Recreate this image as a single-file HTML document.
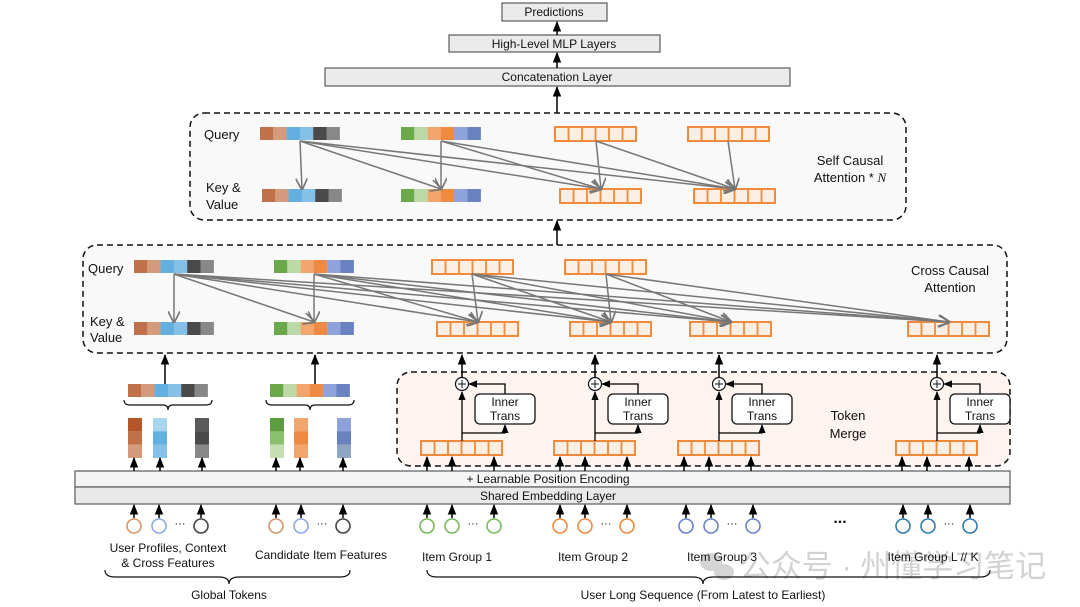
<!DOCTYPE html>
<html><head><meta charset="utf-8"><style>
html,body{margin:0;padding:0;background:#fff;width:1080px;height:607px;overflow:hidden}
svg text{font-family:"Liberation Sans",Arial,sans-serif;fill:#111}
</style></head><body>
<svg id="s" width="1080" height="607" viewBox="0 0 1080 607" xmlns="http://www.w3.org/2000/svg">
<defs>
<marker id="ab" viewBox="0 0 10 10" refX="9" refY="5" markerWidth="7" markerHeight="7" orient="auto"><path d="M0,1 L10,5 L0,9 Z" fill="#000"/></marker>
<marker id="ag" viewBox="0 0 10 10" refX="9" refY="5" markerWidth="8" markerHeight="8" orient="auto"><path d="M0,0 L10,5 L0,10" fill="none" stroke="#777" stroke-width="1.4"/></marker>
</defs>
<!-- top boxes -->
<rect x="502" y="3" width="105" height="18" fill="#ebebeb" stroke="#666" stroke-width="1.3"/>
<text x="554" y="16" font-size="12" text-anchor="middle">Predictions</text>
<rect x="449" y="35" width="211" height="17" fill="#ebebeb" stroke="#666" stroke-width="1.3"/>
<text x="554" y="48" font-size="12" text-anchor="middle">High-Level MLP Layers</text>
<rect x="325" y="68" width="465" height="18" fill="#ebebeb" stroke="#666" stroke-width="1.3"/>
<text x="557" y="81" font-size="12" text-anchor="middle">Concatenation Layer</text>
<line x1="557" y1="35" x2="557" y2="22" stroke="#000" stroke-width="1.5" marker-end="url(#ab)"/>
<line x1="557" y1="68" x2="557" y2="53" stroke="#000" stroke-width="1.5" marker-end="url(#ab)"/>
<line x1="557" y1="113" x2="557" y2="87" stroke="#000" stroke-width="1.5" marker-end="url(#ab)"/>
<line x1="557" y1="245" x2="557" y2="221" stroke="#000" stroke-width="1.5" marker-end="url(#ab)"/>
<!-- dashed containers -->
<rect x="190" y="113" width="716" height="107" rx="14" fill="#f9f9f9" stroke="#111" stroke-width="1.5" stroke-dasharray="6,4"/>
<rect x="83" y="245" width="924" height="108" rx="14" fill="#f9f9f9" stroke="#111" stroke-width="1.5" stroke-dasharray="6,4"/>
<rect x="397" y="372" width="613" height="94" rx="14" fill="#fdf3ef" stroke="#111" stroke-width="1.5" stroke-dasharray="6,4"/>
<text x="204" y="139" font-size="13">Query</text>
<text x="206" y="192" font-size="13">Key &amp;</text>
<text x="206" y="209" font-size="13">Value</text>
<text x="850" y="165" font-size="13" text-anchor="middle">Self Causal</text>
<text x="850" y="182" font-size="13" text-anchor="middle">Attention * <tspan font-family="Liberation Serif" font-style="italic">N</tspan></text>
<text x="88" y="273" font-size="13">Query</text>
<text x="90" y="326" font-size="13">Key &amp;</text>
<text x="90" y="342" font-size="13">Value</text>
<text x="950" y="275" font-size="13" text-anchor="middle">Cross Causal</text>
<text x="950" y="292" font-size="13" text-anchor="middle">Attention</text>
<text x="848" y="420" font-size="13" text-anchor="middle">Token</text>
<text x="848" y="438" font-size="13" text-anchor="middle">Merge</text>
<!-- embedding bars -->
<rect x="75" y="471" width="935" height="16" fill="#f5f5f5" stroke="#666" stroke-width="1.3"/>
<rect x="75" y="487" width="935" height="17" fill="#e9e9e9" stroke="#666" stroke-width="1.3"/>
<text x="548" y="483" font-size="12" text-anchor="middle">+ Learnable Position Encoding</text>
<text x="548" y="500" font-size="12" text-anchor="middle">Shared Embedding Layer</text>
<g id="g"></g>
<!-- watermark -->
<g opacity="0.75">
<ellipse cx="711" cy="562" rx="11" ry="9" fill="#c8c8c8"/>
<ellipse cx="724" cy="572" rx="10" ry="8" fill="#c8c8c8"/>
<text x="893" y="577" font-size="31" style="fill:#c4c4c4" font-family="Noto Sans CJK SC,sans-serif" text-anchor="middle">公众号 · 州懂学习笔记</text>
</g>
<!-- labels bottom -->
<text x="168" y="552" font-size="12" text-anchor="middle">User Profiles, Context</text>
<text x="168" y="567" font-size="12" text-anchor="middle">&amp; Cross Features</text>
<text x="321" y="559" font-size="12" text-anchor="middle">Candidate Item Features</text>
<text x="457" y="561" font-size="12" text-anchor="middle">Item Group 1</text>
<text x="593" y="561" font-size="12" text-anchor="middle">Item Group 2</text>
<text x="722" y="561" font-size="12" text-anchor="middle">Item Group 3</text>
<text x="933" y="561" font-size="12" text-anchor="middle">Item Group L // K</text>
<text x="229" y="599" font-size="12" text-anchor="middle">Global Tokens</text>
<text x="703" y="599" font-size="12" text-anchor="middle">User Long Sequence (From Latest to Earliest)</text>
<text x="840" y="523" font-size="16" text-anchor="middle" font-weight="bold">...</text>
<path d="M105,570 Q105,577 115,577 L219,577 Q229,577 229,584 Q229,577 239,577 L340,577 Q350,577 350,570" fill="none" stroke="#111" stroke-width="1.2"/>
<path d="M427,570 Q427,577 437,577 L693,577 Q703,577 703,584 Q703,577 713,577 L980,577 Q990,577 990,570" fill="none" stroke="#111" stroke-width="1.2"/>
</svg>
<script>
var g=document.getElementById('g'),NS='http://www.w3.org/2000/svg';
function el(t,a){var e=document.createElementNS(NS,t);for(var k in a)e.setAttribute(k,a[k]);g.appendChild(e);return e;}
var C1=['#c0714a','#d49a7c','#62afe0','#85c1e6','#4a4a4a','#888'];
var C2=['#6aa84a','#bcd9a8','#f2a56c','#ef8a44','#8ea3dc','#6a82c0'];
function cbar(x,y,c){for(var i=0;i<6;i++)el('rect',{x:x+i*13.3,y:y,width:13.4,height:13,fill:c[i]});}
function obar(x,y){el('rect',{x:x,y:y,width:81,height:14,fill:'#fbeee2',stroke:'#f08a3c','stroke-width':2});for(var i=1;i<6;i++)el('line',{x1:x+i*13.5,y1:y,x2:x+i*13.5,y2:y+14,stroke:'#f08a3c','stroke-width':1.8});}
function arr(x1,y1,x2,y2){el('line',{x1:x1,y1:y1,x2:x2,y2:y2,stroke:'#000','stroke-width':1.5,'marker-end':'url(#ab)'});}
function garr(x1,y1,x2,y2){el('line',{x1:x1,y1:y1,x2:x2,y2:y2,stroke:'#777','stroke-width':1.5,'marker-end':'url(#ag)'});}
cbar(260,127,C1);cbar(401,127,C2);obar(555,127);obar(688,127);
cbar(262,189,C1);cbar(401,189,C2);obar(560,189);obar(694,189);
var sq=[300,441,596,728],sk=[302,441,601,735];
for(var i=0;i<4;i++)for(var j=i;j<4;j++)garr(sq[i],141,sk[j],189);
cbar(134,260,C1);cbar(274,260,C2);obar(432,260);obar(565,260);
cbar(134,322,C1);cbar(274,322,C2);obar(437,322);obar(570,322);obar(690,322);obar(908,322);
var cq=[174,314,472,606],ck=[174,314,478,611,731,949];
var st=[0,1,2,3];
for(var i=0;i<4;i++)for(var j=st[i];j<6;j++)garr(cq[i],274,ck[j],322);
[165,315].forEach(function(x){arr(x,384,x,355);});
cbar(128,384,C1);cbar(270,384,C2);
function brace(x1,x2,y){var m=(x1+x2)/2;el('path',{d:'M'+x1+','+y+' Q'+x1+','+(y+5)+' '+(x1+6)+','+(y+5)+' L'+(m-5)+','+(y+5)+' Q'+m+','+(y+5)+' '+m+','+(y+10)+' Q'+m+','+(y+5)+' '+(m+5)+','+(y+5)+' L'+(x2-6)+','+(y+5)+' Q'+x2+','+(y+5)+' '+x2+','+y,fill:'none',stroke:'#111','stroke-width':1.2});}
brace(124,212,400);brace(266,354,400);
var cols=[[128,['#b5552a','#c0714a','#d49a7c']],[153,['#a8d6ef','#62afe0','#85c1e6']],[195,['#5a5a5a','#4a4a4a','#888']],
[270,['#5c9e3e','#8abf6c','#c6e0b4']],[294,['#f2a56c','#ef8a44','#f2a56c']],[337,['#8ea3dc','#6a82c0','#8ea6c4']]];
cols.forEach(function(c){for(var k=0;k<3;k++)el('rect',{x:c[0],y:418+k*13.3,width:14,height:13.4,fill:c[1][k]});});
[421,554,678,896].forEach(function(x0){
 obar(x0,441);
 var cx=x0+41,bx=x0+54;
 el('line',{x1:cx,y1:441,x2:cx,y2:392,stroke:'#000','stroke-width':1.3,'marker-end':'url(#ab)'});
 el('rect',{x:bx,y:394,width:60,height:30,rx:5,fill:'#fff',stroke:'#111','stroke-width':1.3});
 el('polyline',{points:cx+','+433+' '+(bx+30)+','+433+' '+(bx+30)+','+425,fill:'none',stroke:'#000','stroke-width':1.3,'marker-end':'url(#ab)'});
 el('polyline',{points:(bx+30)+','+394+' '+(bx+30)+','+384+' '+(cx+7)+','+384,fill:'none',stroke:'#000','stroke-width':1.3,'marker-end':'url(#ab)'});
 el('circle',{cx:cx,cy:384,r:6.5,fill:'#fff',stroke:'#111','stroke-width':1.2});
 el('line',{x1:cx-4,y1:384,x2:cx+4,y2:384,stroke:'#111','stroke-width':1});
 el('line',{x1:cx,y1:380,x2:cx,y2:388,stroke:'#111','stroke-width':1});
 var t1=el('text',{x:bx+30,y:406,'font-size':12,'text-anchor':'middle'});t1.textContent='Inner';
 var t2=el('text',{x:bx+30,y:420,'font-size':12,'text-anchor':'middle'});t2.textContent='Trans';
 arr(cx,378,cx,355);
 [6,31,73].forEach(function(d){arr(x0+d,471,x0+d,457);});
});
[134,160,202,276,300,343].forEach(function(x){arr(x,471,x,458);});
var groups=[[134,'#d4956a','#8ea8e0','#444'],[276,'#d4956a','#8ea8e0','#444'],[427,'#7ab85c','#7ab85c','#7ab85c'],[560,'#f08a3c','#f08a3c','#f08a3c'],[686,'#6a82c8','#6a82c8','#6a82c8'],[903,'#2e7aa8','#2e7aa8','#2e7aa8']];
groups.forEach(function(gr){var x=gr[0],xs=[x,x+25,x+67];
 xs.forEach(function(cx,k){el('circle',{cx:cx,cy:526,r:7,fill:'#fff',stroke:gr[k+1],'stroke-width':1.6});arr(cx,518,cx,505);});
 var t=el('text',{x:x+46,y:527,'font-size':11,'text-anchor':'middle'});t.textContent='···';});
</script>
</body></html>
